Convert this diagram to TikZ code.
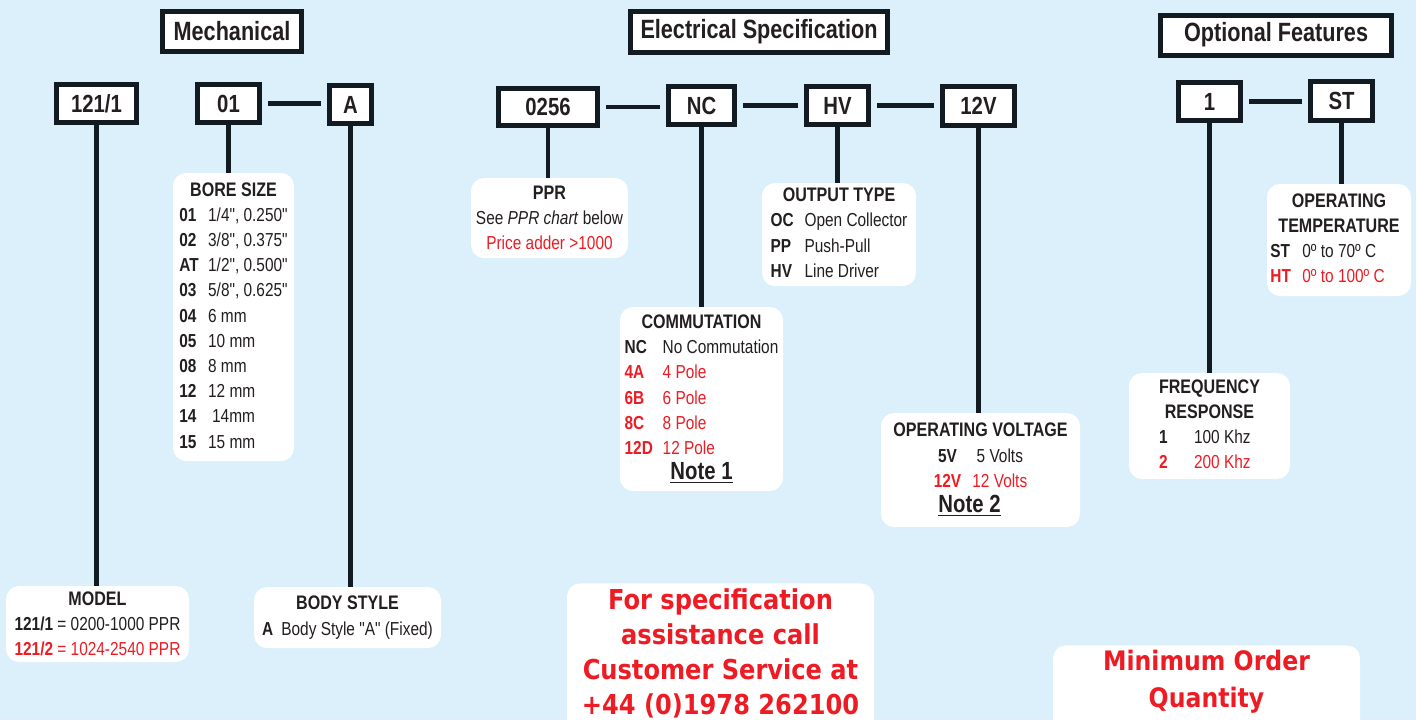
\documentclass[tikz,border=0pt]{standalone}
\usepackage{fontspec}
\setmainfont{Liberation Sans}[FakeStretch=0.82, Ligatures=TeXOff]
\newfontfamily\callfont{DejaVu Sans}[FakeStretch=0.88]
\definecolor{bg}{HTML}{DBF0FB}
\definecolor{ink}{HTML}{111B21}
\definecolor{txt}{HTML}{231F20}
\definecolor{hot}{HTML}{ED1C24}
\newcommand{\hd}[1]{{\fontsize{9.8}{12}\selectfont\bfseries #1}}
\newcommand{\rd}[1]{\textcolor{hot}{#1}}
\newcommand{\notetext}[1]{{\fontsize{12.4}{14}\selectfont\bfseries\underline{#1}}}

\begin{document}
\begin{tikzpicture}[x=0.5pt,y=-0.5pt]
        \tikzstyle{every node}=[inner sep=0pt, text=txt, font=\fontsize{9.4}{12.6}\selectfont]
        \tikzstyle{heading}=[draw=ink, fill=white, line width=2.5pt, font=\fontsize{13.2}{15}\selectfont\bfseries]
        \tikzstyle{part}=[draw=ink, fill=white, line width=2.5pt, font=\fontsize{12.4}{14}\selectfont\bfseries]
        \tikzstyle{info}=[fill=white, rounded corners=6.5pt]
        \tikzstyle{promo}=[fill=white, rounded corners=6.5pt, anchor=north, align=center, text=hot, inner ysep=2.5pt, font=\callfont\bfseries\fontsize{13.7}{17.5}\selectfont]
        \tikzstyle{edge}=[ink, line width=2.2pt]
        \tikzstyle{link}=[ink, line width=2.2pt, shorten <=3.2pt, shorten >=3.2pt]

        \fill[bg] (0,0) rectangle (1416,720);
        \useasboundingbox (0,0) rectangle (1416,720);

        \node[heading, minimum width=69.5pt, minimum height=20pt]  (mech) at (232,31)    {Mechanical};
        \node[heading, minimum width=128.5pt, minimum height=20.5pt] (elec) at (759,32) {Electrical Specification};
        \node[heading, minimum width=115.5pt, minimum height=20pt] (opt)  at (1276,35)  {Optional Features};

        \node[part, minimum width=40pt, minimum height=19pt]   (m121) at (96.5,103.5)  {121/1};
        \node[part, minimum width=31pt, minimum height=19pt]   (m01)  at (228.5,103.5) {01};
        \node[part, minimum width=21pt, minimum height=19pt]   (mA)   at (350.5,104.5) {A};
        \node[part, minimum width=49.5pt, minimum height=18.5pt] (e0256) at (548,107)  {0256};
        \node[part, minimum width=33pt, minimum height=19pt]   (eNC)  at (701.5,105.5) {NC};
        \node[part, minimum width=31pt, minimum height=19pt]   (eHV)  at (837.5,105.5) {HV};
        \node[part, minimum width=36pt, minimum height=19.5pt] (e12V) at (978.5,106)   {12V};
        \node[part, minimum width=31pt, minimum height=19pt]   (o1)   at (1209.5,101.5) {1};
        \node[part, minimum width=31pt, minimum height=19.5pt] (oST)  at (1341.5,101)  {ST};

        \node[info, minimum width=91.5pt, minimum height=38pt, align=center] (model) at (97.5,624)
            {\hd{MODEL}\\ \textbf{121/1} = 0200-1000 PPR\\ \rd{\textbf{121/2} = 1024-2540 PPR}};
        \node[info, minimum width=93.5pt, minimum height=30.5pt, align=center] (body) at (347.5,617.5)
            {\hd{BODY STYLE}\\ \textbf{A}\hspace{4pt}Body Style "A" (Fixed)};
        \node[info, minimum width=60.5pt, minimum height=144pt] (bore) at (233.5,317)
            {\begin{tabular}{@{}l@{\hspace{4.7pt}}l@{}}
             \multicolumn{2}{@{}c@{}}{\hd{BORE SIZE}}\\
             \textbf{01} & 1/4", 0.250"\\
             \textbf{02} & 3/8", 0.375"\\
             \textbf{AT} & 1/2", 0.500"\\
             \textbf{03} & 5/8", 0.625"\\
             \textbf{04} & 6 mm\\
             \textbf{05} & 10 mm\\
             \textbf{08} & 8 mm\\
             \textbf{12} & 12 mm\\
             \textbf{14} & \hspace{2pt}14mm\\
             \textbf{15} & 15 mm
             \end{tabular}};

        \node[info, minimum width=78.5pt, minimum height=40pt, align=center] (ppr) at (549.5,218)
            {\hd{PPR}\\ See \textit{PPR chart} below\\ \rd{Price adder >1000}};
        \node[info, minimum width=81.5pt, minimum height=92pt] (comm) at (701.5,399)
            {\begin{tabular}{@{}l@{\hspace{4.9pt}}l@{}}
             \multicolumn{2}{@{}c@{}}{\hd{COMMUTATION}}\\
             \textbf{NC} & No Commutation\\
             \rd{\textbf{4A}} & \rd{4 Pole}\\
             \rd{\textbf{6B}} & \rd{6 Pole}\\
             \rd{\textbf{8C}} & \rd{8 Pole}\\
             \rd{\textbf{12D}} & \rd{12 Pole}\\
             \multicolumn{2}{@{}c@{}}{\notetext{Note 1}}
             \end{tabular}};
        \node[info, minimum width=77pt, minimum height=51.5pt] (outp) at (839,234.5)
            {\begin{tabular}{@{}l@{\hspace{5.4pt}}l@{}}
             \multicolumn{2}{@{}c@{}}{\hd{OUTPUT TYPE}}\\
             \textbf{OC} & Open Collector\\
             \textbf{PP} & Push-Pull\\
             \textbf{HV} & Line Driver
             \end{tabular}};
        \node[info, minimum width=99.5pt, minimum height=57pt, align=center] (volt) at (980.5,470)
            {\hd{OPERATING VOLTAGE}\\
             \makebox[19.3pt][l]{\textbf{5V}}5 Volts\hspace*{11pt}\\
             \rd{\makebox[19.3pt][l]{\textbf{12V}}12 Volts}\hspace*{11pt}\\
             \notetext{Note 2}\hspace*{11pt}};

        \node[info, minimum width=80.5pt, minimum height=53pt] (freq) at (1209.5,426)
            {\begin{tabular}{@{}l@{\hspace{13.2pt}}l@{}}
             \multicolumn{2}{@{}c@{}}{\hd{FREQUENCY}}\\
             \multicolumn{2}{@{}c@{}}{\hd{RESPONSE}}\\
             \textbf{1} & 100 Khz\\
             \rd{\textbf{2}} & \rd{200 Khz}
             \end{tabular}};
        \node[info, minimum width=72pt, minimum height=56pt] (temp) at (1339,240)
            {\begin{tabular}{@{\hspace{-4pt}}l@{\hspace{5.7pt}}l@{}}
             \multicolumn{2}{@{}c@{}}{\hd{OPERATING}}\\
             \multicolumn{2}{@{}c@{}}{\hd{TEMPERATURE}}\\
             \textbf{ST} & 0º to 70º C\\
             \rd{\textbf{HT}} & \rd{0º to 100º C}
             \end{tabular}};

        \node[promo, minimum width=153.5pt, text depth=62pt] (call) at (720.5,583)
            {For specification\\assistance call\\Customer Service at\\+44 (0)1978 262100};
        \node[promo, minimum width=153.5pt, text depth=40pt, font=\callfont\bfseries\fontsize{13.4}{18.5}\selectfont] (moq) at (1206.5,645)
            {Minimum Order\\Quantity};

        \draw[edge] (m121.south) -- (m121.south |- model.north);
        \draw[edge] (m01.south) -- (m01.south |- bore.north);
        \draw[edge] (mA.south) -- (mA.south |- body.north);
        \draw[edge] (e0256.south) -- (e0256.south |- ppr.north);
        \draw[edge] (eNC.south) -- (eNC.south |- comm.north);
        \draw[edge] (eHV.south) -- (eHV.south |- outp.north);
        \draw[edge] (e12V.south) -- (e12V.south |- volt.north);
        \draw[edge] (o1.south) -- (o1.south |- freq.north);
        \draw[edge] (oST.south) -- (oST.south |- temp.north);

        \draw[link] (m01.east) -- (m01.east -| mA.west);
        \draw[link] (e0256.east) -- (e0256.east -| eNC.west);
        \draw[link] (eNC.east) -- (eNC.east -| eHV.west);
        \draw[link] (eHV.east) -- (eHV.east -| e12V.west);
        \draw[link] (o1.east) -- (o1.east -| oST.west);
\end{tikzpicture}
\end{document}
